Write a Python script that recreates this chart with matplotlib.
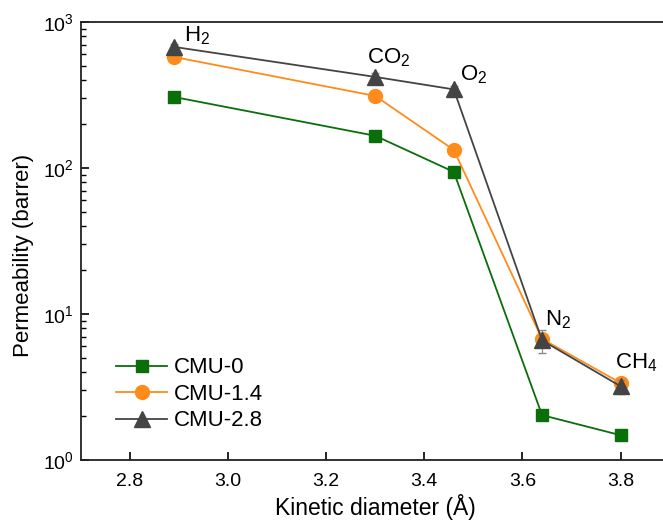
import matplotlib
matplotlib.use("Agg")
import matplotlib.pyplot as plt
from matplotlib.ticker import LogLocator, NullFormatter

plt.rcParams['font.family'] = ['Liberation Sans', 'DejaVu Sans']
plt.rcParams['mathtext.default'] = 'regular'

# data
diametro = [2.89, 3.30, 3.46, 3.64, 3.80]
gases = [r'H$_2$', r'CO$_2$', r'O$_2$', r'N$_2$', r'CH$_4$']
cmu_0 = [306, 166, 94, 2.03, 1.48]
cmu_14 = [575, 311, 133, 6.75, 3.37]
cmu_28 = [674, 420, 345, 6.6, 3.2]
err_28 = [30, 25, 20, 1.2, 0.35]

cores = {'cmu0': '#0a6e0a', 'cmu14': '#ff8c1a', 'cmu28': '#444444'}

fig = plt.figure(figsize=(6.63, 5.21), dpi=100)
ax = fig.add_axes([0.122, 0.117, 0.888, 0.841])

ax.plot(diametro, cmu_0, color=cores['cmu0'], marker='s', markersize=8.5, lw=1.3, label='CMU-0')
ax.plot(diametro, cmu_14, color=cores['cmu14'], marker='o', markersize=10, lw=1.3, label='CMU-1.4')
ax.errorbar(diametro, cmu_28, yerr=err_28, fmt='none', ecolor='#888888', elinewidth=0.8, capsize=3)
ax.plot(diametro, cmu_28, color=cores['cmu28'], marker='^', markersize=11, lw=1.3, label='CMU-2.8')

ax.set_yscale('log')
ax.set_xlim(2.7, 3.9)
ax.set_ylim(1, 1000)
ax.set_xticks([2.8, 3.0, 3.2, 3.4, 3.6, 3.8])
ax.yaxis.set_major_locator(LogLocator(base=10, numticks=10))
ax.yaxis.set_minor_locator(LogLocator(base=10, subs=range(2, 10), numticks=10))
ax.yaxis.set_minor_formatter(NullFormatter())

ax.tick_params(which='major', direction='in', length=6, width=1.2, labelsize=14)
ax.tick_params(axis='x', which='major', pad=9)
ax.tick_params(axis='y', which='major', pad=5)
ax.tick_params(which='minor', direction='in', length=3.5, width=1)
ax.tick_params(axis='x', top=False)
for s in ax.spines.values():
    s.set_linewidth(1.3)
    s.set_color('#222222')

ax.set_xlabel('Kinetic diameter (Å)', fontsize=16.5, labelpad=3)
ax.set_ylabel('Permeability (barrer)', fontsize=16)
ax.yaxis.set_label_coords(-0.08, 0.466)

# rótulos dos gases (deslocamento em pixels a partir do triângulo)
desloc = [(10, 6), (-8, 14), (6, 9), (3, 15), (-6, 18)]
for x, y, g, d in zip(diametro, cmu_28, gases, desloc):
    ax.annotate(g, (x, y), xytext=d, textcoords='offset pixels', fontsize=16,
                ha='left', va='baseline')

ax.legend(loc='lower left', bbox_to_anchor=(0.045, 0.045), frameon=False, fontsize=16,
          handlelength=2.3, handletextpad=0.3, labelspacing=0.25, borderaxespad=0)

fig.savefig('out.png', dpi=100)
